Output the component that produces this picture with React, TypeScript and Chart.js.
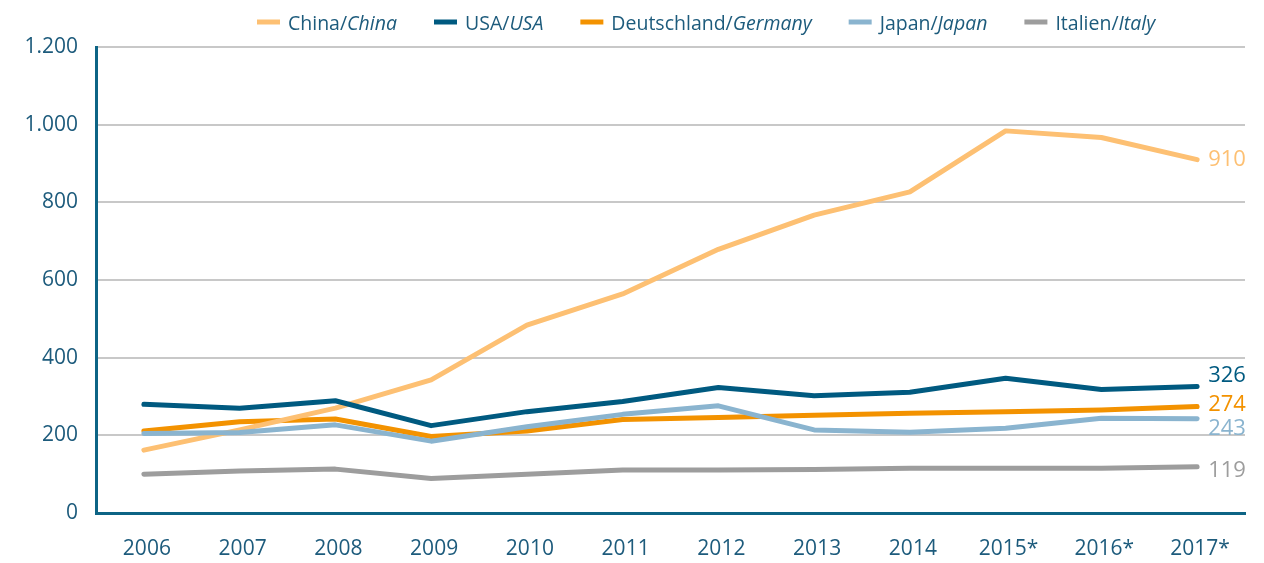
import React, { useEffect, useRef } from 'react';
import { Chart, registerables } from 'chart.js';

Chart.register(...registerables);

const years = ['2006', '2007', '2008', '2009', '2010', '2011', '2012', '2013', '2014', '2015*', '2016*', '2017*'];
const china = [162, 214, 270, 343, 484, 564, 679, 767, 827, 984, 967, 910];
const usa = [280, 270, 289, 225, 261, 287, 323, 302, 311, 347, 318, 326];
const germany = [211, 235, 242, 197, 211, 241, 246, 252, 257, 261, 265, 274];
const japan = [205, 207, 227, 185, 222, 254, 276, 214, 208, 218, 244, 243];
const italy = [100, 108, 113, 89, 100, 111, 111, 112, 115, 115, 115, 119];

const legendNames: [string, string][] = [
  ['China/', 'China'],
  ['USA/', 'USA'],
  ['Deutschland/', 'Germany'],
  ['Japan/', 'Japan'],
  ['Italien/', 'Italy'],
];
const yTicks = [0, 200, 400, 600, 800, 1000, 1200];

const TEXT = '#1d5b7c';
const AXIS = '#0d6485';
const colors = ['#fdc073', '#005a80', '#f39200', '#8ab4cf', '#9d9d9d'];

const fmt = (v: number) => String(v).replace(/\B(?=(\d{3})+(?!\d))/g, '.');

const endLabels = {
  id: 'endLabels',
  afterDatasetsDraw(chart: any) {
    const ctx = chart.ctx;
    ctx.save();
    ctx.font = '22px "Open Sans"';
    ctx.textAlign = 'left';
    ctx.textBaseline = 'middle';
    chart.data.datasets.forEach((ds: any, i: number) => {
      const meta = chart.getDatasetMeta(i);
      const pts = meta.data;
      const last = pts[pts.length - 1];
      if (!last) return;
      ctx.fillStyle = ds.borderColor;
      ctx.fillText(String(ds.data[ds.data.length - 1]), last.x + 11, last.y + (ds.endLabelDy || 0));
    });
    ctx.restore();
  },
};

const customLegend = {
  id: 'customLegend',
  afterDraw(chart: any) {
    const ctx = chart.ctx;
    ctx.save();
    let x = 257;
    const y = 22;
    ctx.textBaseline = 'middle';
    ctx.textAlign = 'left';
    chart.data.datasets.forEach((ds: any, i: number) => {
      const [a, b] = legendNames[i];
      ctx.strokeStyle = ds.borderColor;
      ctx.lineWidth = 5;
      ctx.lineCap = 'butt';
      ctx.beginPath();
      ctx.moveTo(x, y);
      ctx.lineTo(x + 23, y);
      ctx.stroke();
      x += 31;
      ctx.fillStyle = TEXT;
      ctx.font = '19.5px "Open Sans"';
      ctx.fillText(a, x, y + 2);
      x += ctx.measureText(a).width;
      ctx.font = 'italic 19.5px "Open Sans"';
      ctx.fillText(b, x, y + 2);
      x += ctx.measureText(b).width + 37;
    });
    ctx.restore();
  },
};

export default function App() {
  const ref = useRef<HTMLCanvasElement | null>(null);
  useEffect(() => {
    if (!ref.current) return;
    const mk = (data: number[], i: number, order: number, dy: number) => ({
      label: legendNames[i].join(''),
      data,
      borderColor: colors[i],
      backgroundColor: colors[i],
      borderWidth: 5,
      borderCapStyle: 'round',
      borderJoinStyle: 'round',
      pointRadius: 0,
      pointHoverRadius: 0,
      tension: 0,
      fill: false,
      order,
      endLabelDy: dy,
    });
    const chart = new Chart(ref.current, {
      type: 'line',
      data: {
        labels: years,
        datasets: [
          mk(china, 0, 3, 0),
          mk(usa, 1, 1, -11),
          mk(germany, 2, 4, -2),
          mk(japan, 3, 2, 10),
          mk(italy, 4, 5, 4),
        ] as any,
      },
      options: {
        animation: false,
        responsive: true,
        maintainAspectRatio: false,
        layout: { padding: { left: 0, right: 19, top: 47, bottom: 0 } },
        plugins: {
          legend: { display: false },
          tooltip: { enabled: false },
        },
        scales: {
          x: {
            offset: true,
            grid: { display: false, drawTicks: false },
            border: { display: true, color: AXIS, width: 3 },
            ticks: {
              color: TEXT,
              font: { family: 'Open Sans', size: 21 },
              padding: 23,
              labelOffset: 3,
              maxRotation: 0,
              autoSkip: false,
            },
            afterFit(scale: any) {
              scale.height = 50;
            },
          },
          y: {
            min: 0,
            max: 1200,
            afterBuildTicks(scale: any) {
              scale.ticks = yTicks.map((v) => ({ value: v }));
            },
            grid: { color: '#c8c8c8', lineWidth: 2, drawTicks: false },
            border: { display: true, color: AXIS, width: 3 },
            ticks: {
              color: TEXT,
              font: { family: 'Open Sans', size: 21 },
              padding: 18,
              callback: (v: any) => fmt(Number(v)),
            },
            afterFit(scale: any) {
              scale.width = 96;
            },
          },
        },
      },
      plugins: [endLabels, customLegend],
    } as any);
    return () => chart.destroy();
  }, []);
  return (
    <div style={{ position: 'fixed', left: 0, top: 0, width: 1264, height: 563, background: '#fff' }}>
      <canvas ref={ref} />
    </div>
  );
}
